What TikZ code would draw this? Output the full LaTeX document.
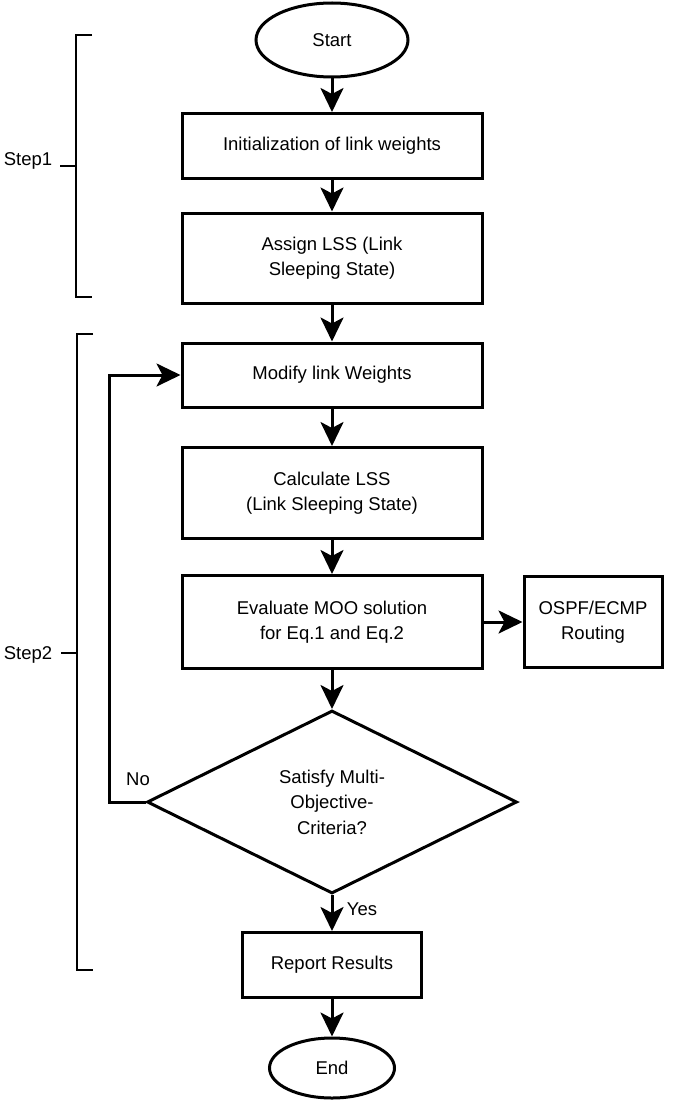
\documentclass[tikz,border=0pt]{standalone}
\usepackage{fontspec}
\setmainfont{Liberation Sans}
\usetikzlibrary{shapes.geometric,arrows.meta}
\begin{document}
\begin{tikzpicture}[x=1pt,y=-1pt,
  every node/.style={font=\fontsize{18.5}{25.5}\selectfont, inner sep=0pt},
  procbox/.style={draw, line width=3pt, minimum width=300pt, align=center},
  term/.style={draw, ellipse, line width=3pt},
  decide/.style={draw, diamond, line width=3pt, minimum width=370pt, minimum height=183pt, align=center},
  flow/.style={line width=3pt, -{Stealth[length=24pt,width=23pt,inset=6pt]}},
  brack/.style={line width=1.5pt}
]
\useasboundingbox (0,0) rectangle (685,1102);
\node[term, minimum width=152pt, minimum height=74pt] (start) at (332,40) {Start};
\node[procbox, minimum height=65pt] (init) at (332,146) {Initialization of link weights};
\node[procbox, minimum height=90pt] (assign) at (332,258) {Assign LSS (Link\\Sleeping State)};
\node[procbox, minimum height=64pt] (modify) at (332,375) {Modify link Weights};
\node[procbox, minimum height=91pt] (calc) at (332,493) {Calculate LSS\\(Link Sleeping State)};
\node[procbox, minimum height=93pt] (eval) at (332,622) {Evaluate MOO solution\\for Eq.1 and Eq.2};
\node[procbox, minimum width=138pt, minimum height=91pt] (ospf) at (593,622) {OSPF/ECMP\\Routing};
\node[decide] (dia) at (332,802) {Satisfy Multi-\\Objective-\\Criteria?};
\node[procbox, minimum width=179pt, minimum height=65pt] (report) at (332,965) {Report Results};
\node[term, minimum width=125pt, minimum height=60pt] (end) at (332,1068) {End};

\draw[flow] (start) -- (init);
\draw[flow] (init) -- (assign);
\draw[flow] (assign) -- (modify);
\draw[flow] (modify) -- (calc);
\draw[flow] (calc) -- (eval);
\draw[flow] (eval) -- (dia);
\draw[flow] (eval) -- (ospf);
\draw[flow] (dia) -- (report);
\draw[flow] (report) -- (end);
\draw[flow] (dia.west) -- ++(-36,0) |- (modify.west);

\node (no) at (138,779) {No};
\node (yes) at (362,909) {Yes};

% brackets
\draw[brack] (92,35) -- (76,35) -- (76,297) -- (92,297);
\draw[brack] (60,166) -- (76,166);
\node (s1) at (28,161) {Step1};
\draw[brack] (93,334) -- (77,334) -- (77,970) -- (93,970);
\draw[brack] (61,653) -- (77,653);
\node (s2) at (28,655) {Step2};
\end{tikzpicture}
\end{document}
